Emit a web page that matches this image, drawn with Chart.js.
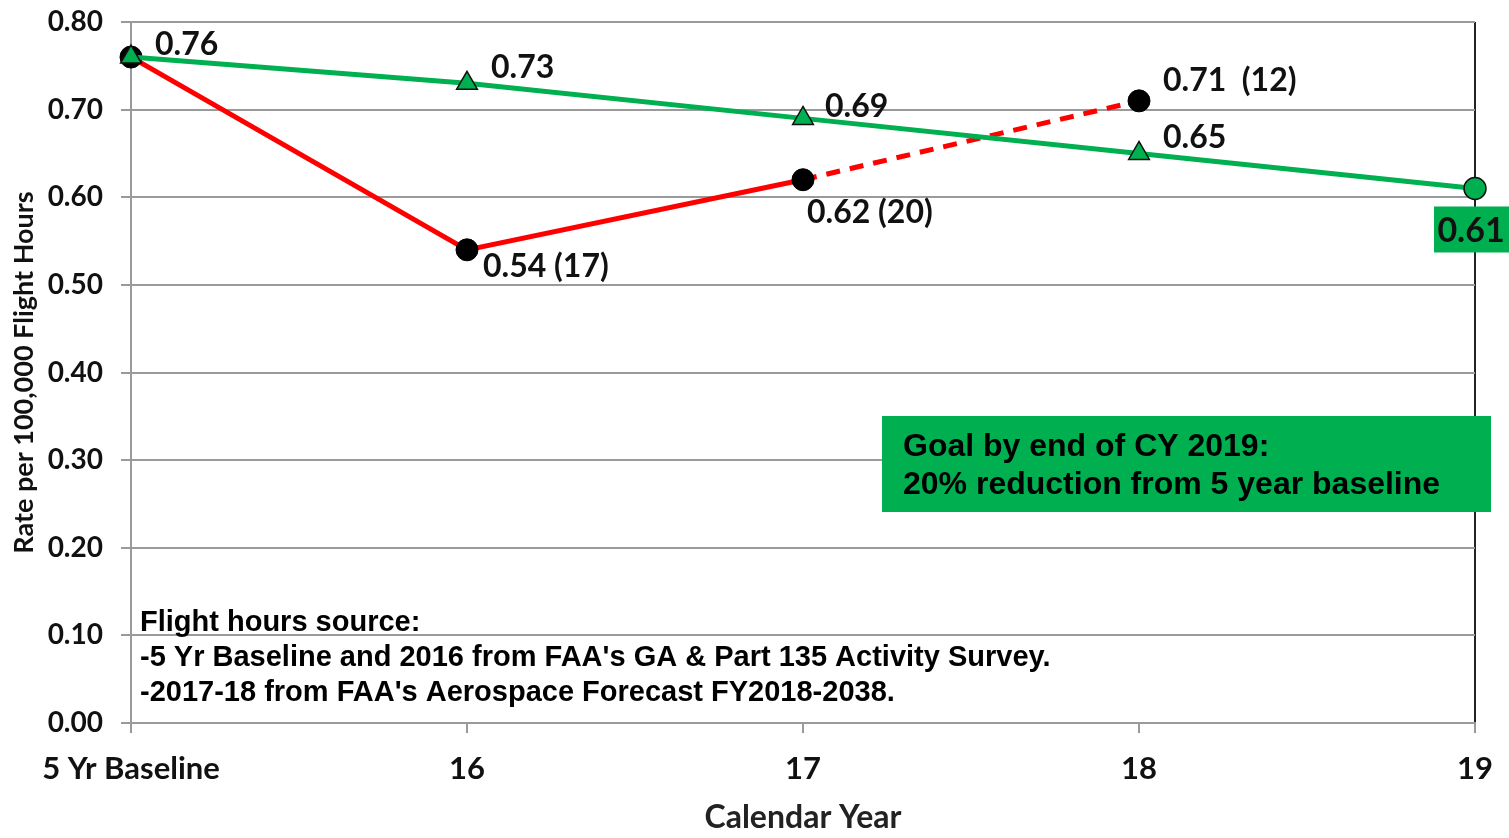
<!DOCTYPE html>
<html>
<head>
<meta charset="utf-8">
<script src="https://cdn.jsdelivr.net/npm/chart.js@4"></script>
<style>
    body { margin: 0; background: #fff; }
    #wrap { width: 1509px; height: 838px; }
</style>
</head>
<body>
<div id="wrap"><canvas id="myChart"></canvas></div>
<script>
// data
const labels = ['5 Yr Baseline', '16', '17', '18', '19']
const actual = [0.76, 0.54, 0.62, 0.71, null]
const accidents = [null, 17, 20, 12, null]
const goal = [0.76, 0.73, 0.69, 0.65, 0.61]
const yTicks = [0, 0.1, 0.2, 0.3, 0.4, 0.5, 0.6, 0.7, 0.8]

const goalNote = ['Goal by end of CY 2019:', '20% reduction from 5 year baseline']
const sourceNote = [
    'Flight hours source:',
    "-5 Yr Baseline and 2016 from FAA's GA & Part 135 Activity Survey.",
    "-2017-18 from FAA's Aerospace Forecast FY2018-2038."
]

const GREEN = '#00B050'
const RED = '#FF0000'
const GRID = '#9a9a9a'
const LABEL_FONT = 'bold 32px Lato'
const NOTE_FONT = 'bold 29px "Liberation Sans"'

// offsets of the value labels from their point (px)
const actualOffsets = [null, [16, 17], [4, 33], [24, -20], null]
const goalOffsets = [[24, -12], [24, -16], [22, -12], [24, -16], null]

const labelsPlugin = {
    id: 'labelsPlugin',
    afterDatasetsDraw(chart) {
        const ctx = chart.ctx
        const x = chart.scales.x
        const y = chart.scales.y
        ctx.save()
        ctx.textBaseline = 'middle'
        ctx.textAlign = 'left'
        ctx.fillStyle = '#111'
        ctx.font = LABEL_FONT

        goal.forEach(function (v, i) {
            if (!goalOffsets[i]) return
            ctx.fillText(v.toFixed(2), x.getPixelForValue(i) + goalOffsets[i][0], y.getPixelForValue(v) + goalOffsets[i][1])
        })
        actual.forEach(function (v, i) {
            if (v == null || !actualOffsets[i]) return
            let gap = i == 3 ? '  ' : ' '
            ctx.fillText(v.toFixed(2) + gap + '(' + accidents[i] + ')', x.getPixelForValue(i) + actualOffsets[i][0], y.getPixelForValue(v) + actualOffsets[i][1])
        })

        // boxed label for the 2019 goal
        let last = goal.length - 1
        let px = x.getPixelForValue(last) - 4
        let py = y.getPixelForValue(goal[last]) + 18
        ctx.fillStyle = GREEN
        ctx.fillRect(px - 37, py, 75, 46)
        ctx.fillStyle = '#111'
        ctx.textAlign = 'center'
        ctx.font = 'bold 34px Lato'
        ctx.fillText(goal[last].toFixed(2), px, py + 25)

        // goal box
        ctx.fillStyle = GREEN
        ctx.fillRect(882, 416, 609, 96)
        ctx.fillStyle = '#000'
        ctx.textAlign = 'left'
        ctx.font = 'bold 32px "Liberation Sans"'
        ctx.fillText(goalNote[0], 903, 447)
        ctx.fillText(goalNote[1], 903, 485)

        // source note
        ctx.font = NOTE_FONT
        sourceNote.forEach(function (t, i) {
            ctx.fillText(t, 140, 623 + i * 35)
        })
        ctx.restore()
    }
}

function chart() {
    const data = {
        labels: labels,
        datasets: [
            {
                label: 'Goal',
                data: goal,
                borderColor: GREEN,
                borderWidth: 5,
                backgroundColor: GREEN,
                pointStyle: ['triangle', 'triangle', 'triangle', 'triangle', 'circle'],
                pointRadius: [12, 12, 12, 12, 11],
                pointBorderColor: '#111',
                pointBorderWidth: 1.5,
                tension: 0
            },
            {
                label: 'Actual',
                data: actual,
                borderColor: RED,
                borderWidth: 5,
                backgroundColor: '#000',
                pointStyle: 'circle',
                pointRadius: 11,
                pointBorderColor: '#000',
                pointBorderWidth: 1,
                tension: 0,
                segment: {
                    borderDash: ctx => ctx.p0DataIndex == 2 ? [14, 10] : undefined
                }
            }
        ]
    }

    const config = {
        type: 'line',
        data: data,
        options: {
            responsive: true,
            maintainAspectRatio: false,
            animation: false,
            layout: { padding: { top: 22, right: 34, left: 0, bottom: 0 } },
            plugins: {
                legend: { display: false },
                tooltip: { enabled: false }
            },
            scales: {
                x: {
                    offset: false,
                    afterFit: s => {
                        s.height = 115
                        s.paddingLeft = 0
                        s.paddingRight = 0
                    },
                    grid: {
                        drawOnChartArea: true,
                        color: c => c.index == 4 ? '#222' : (c.index == 0 ? GRID : 'rgba(0,0,0,0)'),
                        tickColor: GRID,
                        tickLength: 10,
                        lineWidth: 2
                    },
                    border: { color: GRID, width: 2 },
                    ticks: {
                        color: '#111',
                        font: { family: 'Lato', weight: 'bold', size: 31 },
                        padding: 17,
                        maxRotation: 0
                    },
                    title: {
                        display: true,
                        text: 'Calendar Year',
                        color: '#222',
                        font: { family: 'Lato', weight: 'bold', size: 32 },
                        padding: { bottom: 1 }
                    }
                },
                y: {
                    min: 0,
                    max: 0.8,
                    afterFit: s => {
                        s.width = 131
                        s.paddingTop = 0
                        s.paddingBottom = 0
                    },
                    afterBuildTicks: s => { s.ticks = yTicks.map(v => ({ value: v })) },
                    grid: { color: GRID, tickColor: GRID, tickLength: 10, lineWidth: 2 },
                    border: { color: GRID, width: 2 },
                    ticks: {
                        color: '#111',
                        font: { family: 'Lato', weight: 'bold', size: 28 },
                        padding: 18,
                        callback: v => v.toFixed(2)
                    },
                    title: {
                        display: true,
                        text: 'Rate per 100,000 Flight Hours',
                        color: '#111',
                        font: { family: 'Lato', weight: 'bold', size: 27 },
                        padding: { top: 8 }
                    }
                }
            }
        },
        plugins: [labelsPlugin]
    }

    const myChart = new Chart(document.getElementById('myChart'), config)
}
chart()
</script>
</body>
</html>
